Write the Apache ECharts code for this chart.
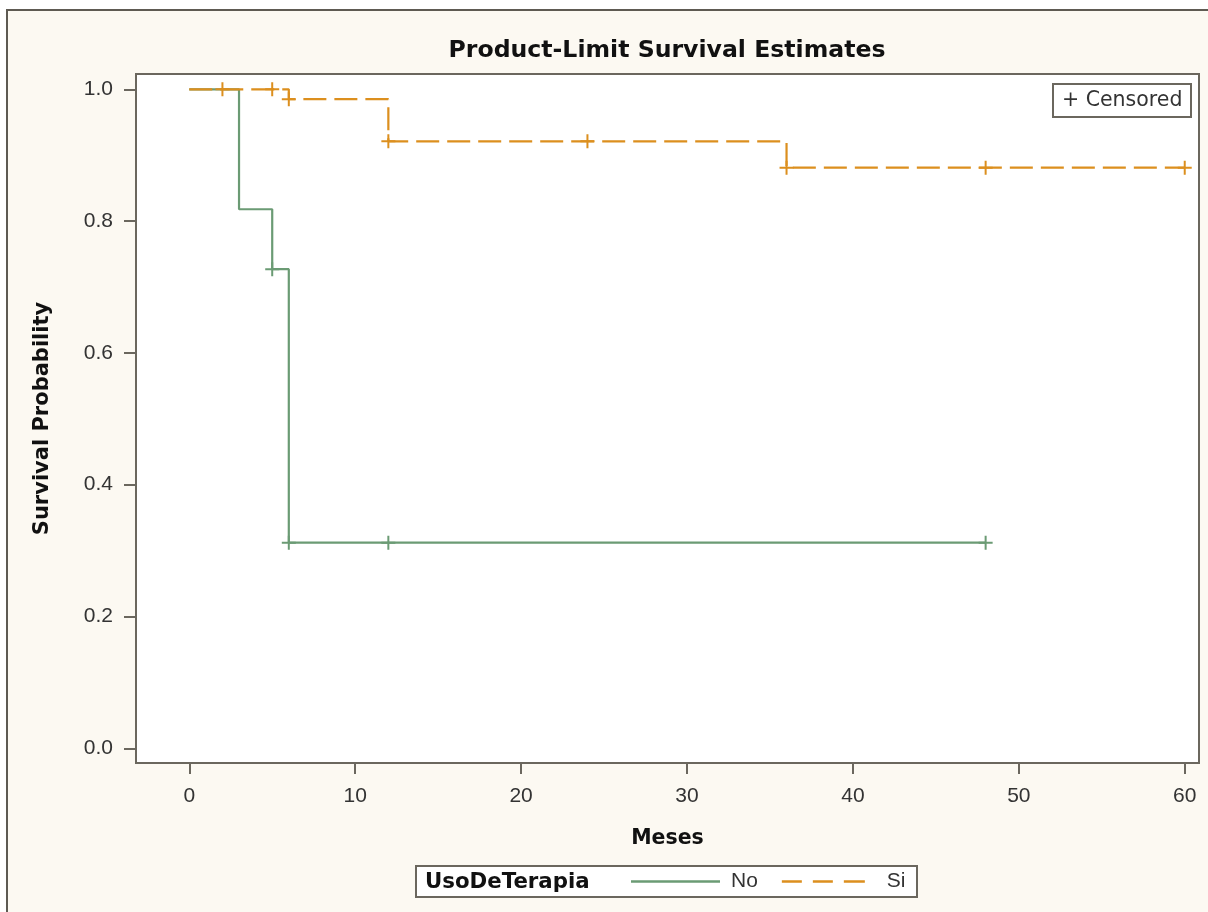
<!DOCTYPE html>
<html>
<head>
<meta charset="utf-8">
<title>Product-Limit Survival Estimates</title>
<script src="https://cdn.jsdelivr.net/npm/echarts@6/dist/echarts.min.js"></script>
<style>
  html, body { margin: 0; padding: 0; background: #ffffff; }
  #main { width: 1208px; height: 912px; }
</style>
</head>
<body>
<div id="main"></div>
<script>
// Kaplan-Meier steps per group (time in months, survival probability)
const noTimes = [0, 3, 5, 6, 48];
const noSurv = [1, 0.818, 0.727, 0.312, 0.312];
const noCensTimes = [5, 6, 12, 48];
const noCensSurv = [0.727, 0.312, 0.312, 0.312];

const siTimes = [0, 6, 12, 36, 60];
const siSurv = [1, 0.985, 0.921, 0.881, 0.881];
const siCensTimes = [2, 5, 6, 12, 24, 36, 48, 60];
const siCensSurv = [1, 1, 0.985, 0.921, 0.921, 0.881, 0.881, 0.881];

const xTicks = [0, 10, 20, 30, 40, 50, 60];
const yTicks = [0, 0.2, 0.4, 0.6, 0.8, 1.0];

const groupNames = ['No', 'Si'];

const GREEN = '#6b9b74';
const ORANGE = '#dc8f1e';
const FRAME = '#6b675e';
const TXT = '#333333';
const NORMAL_FONT = 'Liberation Sans';
const BOLD_FONT = 'DejaVu Sans';

// thin plus sign used for censored marks
const PLUS = 'path://M6,0h2v6h6v2h-6v6h-2v-6h-6v-2h6z';
// legend samples: solid and dashed strokes drawn as thin bars
const SOLID_ICON = 'path://M0,0h89v2.5h-89z';
const DASH_ICON = 'path://M0,0h20v2.5h-20zM31,0h20v2.5h-20zM62,0h21v2.5h-21z';

function pairs(xs, ys) {
  const out = [];
  for (let i = 0; i < xs.length; i++) {
    out.push([xs[i], ys[i]]);
  }
  return out;
}

const myChart = echarts.init(document.getElementById('main'), null, { renderer: 'canvas' });

const option = {
  backgroundColor: 'transparent',
  animation: false,
  title: {
    text: 'Product-Limit Survival Estimates',
    left: 662,
    textAlign: 'center',
    top: 34,
    textStyle: {
      fontFamily: BOLD_FONT,
      fontWeight: 'bold',
      fontSize: 23.6,
      color: '#111111'
    }
  },
  legend: {
    data: [
      { name: groupNames[0], icon: SOLID_ICON, itemStyle: { color: GREEN } },
      {
        name: groupNames[1],
        icon: DASH_ICON,
        itemStyle: { color: ORANGE },
        textStyle: { padding: [0, 0, 0, 14] }
      }
    ],
    left: 631,
    top: 871,
    padding: 0,
    itemWidth: 89,
    itemHeight: 2.5,
    itemGap: 24,
    selectedMode: false,
    textStyle: {
      fontFamily: NORMAL_FONT,
      fontSize: 21,
      color: TXT,
      padding: [0, 0, 0, 6]
    }
  },
  grid: {
    left: 136,
    top: 74,
    right: 9,
    bottom: 149,
    show: true,
    backgroundColor: '#ffffff',
    borderColor: FRAME,
    borderWidth: 2
  },
  xAxis: {
    type: 'value',
    min: -3.21,
    max: 60.86,
    name: 'Meses',
    nameLocation: 'middle',
    nameGap: 65,
    nameTextStyle: {
      fontFamily: BOLD_FONT,
      fontWeight: 'bold',
      fontSize: 20.5,
      color: '#111111',
      verticalAlign: 'top'
    },
    axisLine: { show: true, onZero: false, lineStyle: { color: FRAME, width: 2 } },
    axisTick: {
      show: true,
      length: 11,
      customValues: xTicks,
      lineStyle: { color: FRAME, width: 2 }
    },
    axisLabel: {
      customValues: xTicks,
      margin: 23,
      fontFamily: NORMAL_FONT,
      fontSize: 21,
      color: TXT
    },
    splitLine: { show: false }
  },
  yAxis: {
    type: 'value',
    min: -0.0223,
    max: 1.0232,
    name: 'Survival Probability',
    nameLocation: 'middle',
    nameRotate: 90,
    nameGap: 83,
    nameTextStyle: {
      fontFamily: BOLD_FONT,
      fontWeight: 'bold',
      fontSize: 21,
      color: '#111111'
    },
    axisLine: { show: true, onZero: false, lineStyle: { color: FRAME, width: 2 } },
    axisTick: {
      show: true,
      length: 12,
      customValues: yTicks,
      lineStyle: { color: FRAME, width: 2 }
    },
    axisLabel: {
      customValues: yTicks,
      margin: 23,
      fontFamily: NORMAL_FONT,
      fontSize: 21,
      color: TXT,
      formatter: function (v) { return v.toFixed(1); }
    },
    splitLine: { show: false }
  },
  series: [
    {
      name: 'No',
      type: 'line',
      step: 'end',
      symbol: 'none',
      data: pairs(noTimes, noSurv),
      lineStyle: { color: GREEN, width: 2.2 },
      itemStyle: { color: GREEN },
      z: 2
    },
    {
      name: 'Si',
      type: 'line',
      step: 'end',
      symbol: 'none',
      data: pairs(siTimes, siSurv),
      lineStyle: { color: ORANGE, width: 2.2, type: [23, 8] },
      itemStyle: { color: ORANGE },
      z: 3
    },
    {
      name: 'No censored',
      type: 'scatter',
      symbol: PLUS,
      symbolSize: 14,
      data: pairs(noCensTimes, noCensSurv),
      itemStyle: { color: GREEN, opacity: 1 },
      z: 4
    },
    {
      name: 'Si censored',
      type: 'scatter',
      symbol: PLUS,
      symbolSize: 14,
      data: pairs(siCensTimes, siCensSurv),
      itemStyle: { color: ORANGE, opacity: 1 },
      z: 4
    }
  ],
  graphic: [
    {
      // outer frame (right and bottom run off the picture)
      type: 'rect',
      z: -10,
      silent: true,
      shape: { x: 7, y: 10, width: 1230, height: 930 },
      style: { fill: '#fcf9f2', stroke: '#5e5a52', lineWidth: 2 }
    },
    {
      // censored key
      type: 'group',
      left: 1052,
      top: 83,
      children: [
        {
          type: 'rect',
          shape: { x: 0, y: 0, width: 138, height: 33 },
          style: { fill: '#ffffff', stroke: FRAME, lineWidth: 2 }
        },
        {
          type: 'text',
          x: 9,
          y: 17,
          style: {
            text: '+ Censored',
            fontFamily: 'DejaVu Sans',
            fontSize: 20.5,
            fill: TXT,
            textVerticalAlign: 'middle'
          }
        }
      ]
    },
    {
      // group legend box
      type: 'rect',
      z: 0,
      silent: true,
      shape: { x: 416, y: 866, width: 501, height: 31 },
      style: { fill: '#ffffff', stroke: FRAME, lineWidth: 2 }
    },
    {
      type: 'text',
      z: 1,
      x: 425,
      y: 882,
      style: {
        text: 'UsoDeTerapia',
        fontFamily: BOLD_FONT,
        fontWeight: 'bold',
        fontSize: 21.3,
        fill: '#111111',
        textVerticalAlign: 'middle'
      }
    }
  ]
};

myChart.setOption(option);
window.addEventListener('resize', myChart.resize);
</script>
</body>
</html>
